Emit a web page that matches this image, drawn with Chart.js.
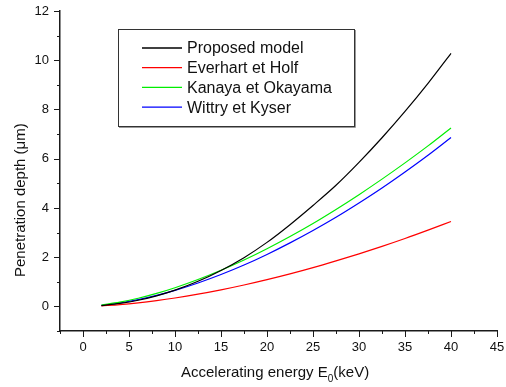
<!DOCTYPE html>
<html>
<head>
<meta charset="utf-8">
<script src="https://cdn.jsdelivr.net/npm/chart.js@4/dist/chart.umd.min.js"></script>
<style>
  html, body { margin: 0; padding: 0; background: #fff; }
  #wrap { width: 506px; height: 387px; }
</style>
</head>
<body>
<div id="wrap"><canvas id="depthChart" width="506" height="387"></canvas></div>
<script>
// --- data ---
const energy = [2, 4, 6, 8, 10, 12.5, 15, 17.5, 20, 22.5, 25, 27.5, 30, 32.5, 35, 37.5, 40];

const proposedModel = [0.03, 0.12, 0.25, 0.43, 0.66, 1.02, 1.46, 1.98, 2.6, 3.32, 4.1, 4.92, 5.85, 6.85, 7.92, 9.06, 10.28];
const everhartHolf  = [0.023, 0.074, 0.145, 0.235, 0.341, 0.495, 0.671, 0.868, 1.085, 1.32, 1.575, 1.85, 2.136, 2.44, 2.76, 3.10, 3.45];
const kanayaOkayama = [0.055, 0.17, 0.329, 0.526, 0.757, 1.09, 1.466, 1.885, 2.345, 2.84, 3.37, 3.94, 4.54, 5.17, 5.83, 6.52, 7.25];
const wittryKyser   = [0.042, 0.137, 0.272, 0.444, 0.65, 0.95, 1.294, 1.68, 2.111, 2.58, 3.083, 3.62, 4.2, 4.81, 5.46, 6.14, 6.86];

const seriesNames  = ["Proposed model", "Everhart et Holf", "Kanaya et Okayama", "Wittry et Kyser"];
const seriesColors = ["#000000", "#ff0000", "#00ee00", "#0000ff"];

const xTitle = "Accelerating energy E";
const yTitle = "Penetration depth (\u03bcm)";

const FONT = "'Liberation Sans', Arial, sans-serif";
const AXIS_COLOR = "#1a1a1a";

function toPoints(ys) {
  return energy.map((x, i) => ({ x: x, y: ys[i] }));
}

// outward tick marks, long on labelled ticks and short on the others
const tickMarks = {
  id: "tickMarks",
  afterDraw(chart) {
    const ctx = chart.ctx;
    const xs = chart.scales.x;
    const ys = chart.scales.y;
    ctx.save();
    ctx.strokeStyle = AXIS_COLOR;
    ctx.lineWidth = 1;
    ctx.beginPath();
    xs.ticks.forEach((t) => {
      const px = Math.round(xs.getPixelForValue(t.value)) + 0.5;
      const len = Math.abs(t.value % 5) < 1e-6 ? 6 : 3;
      ctx.moveTo(px, xs.top);
      ctx.lineTo(px, xs.top + len);
    });
    ys.ticks.forEach((t) => {
      const py = Math.round(ys.getPixelForValue(t.value)) + 0.5;
      const len = Math.abs(t.value % 2) < 1e-6 ? 6 : 3;
      ctx.moveTo(ys.right, py);
      ctx.lineTo(ys.right - len, py);
    });
    ctx.stroke();
    ctx.restore();
  },
};

// axis titles (x title has a subscript 0)
const axisTitles = {
  id: "axisTitles",
  afterDraw(chart) {
    const ctx = chart.ctx;
    ctx.save();
    ctx.fillStyle = "#111";
    ctx.textBaseline = "alphabetic";

    ctx.font = "15px " + FONT;
    let x = 181;
    const base = 377;
    ctx.fillText(xTitle, x, base);
    x += ctx.measureText(xTitle).width;
    ctx.font = "10px " + FONT;
    ctx.fillText("0", x, base + 5);
    x += ctx.measureText("0").width;
    ctx.font = "15px " + FONT;
    ctx.fillText("(keV)", x, base);

    ctx.translate(25, 277);
    ctx.rotate(-Math.PI / 2);
    ctx.textAlign = "left";
    ctx.fillText(yTitle, 0, 0);
    ctx.restore();
  },
};

// boxed legend inside the plot, top left
const boxLegend = {
  id: "boxLegend",
  afterDraw(chart) {
    const ctx = chart.ctx;
    const bx = 118, by = 29, bw = 237, bh = 98;
    ctx.save();
    ctx.fillStyle = "#fff";
    ctx.fillRect(bx, by, bw, bh);
    ctx.strokeStyle = "#333";
    ctx.lineWidth = 1;
    ctx.strokeRect(bx + 0.5, by + 0.5, bw - 1, bh - 1);
    ctx.strokeStyle = "#999";
    ctx.beginPath();
    ctx.moveTo(bx + 1, by + bh + 0.5);
    ctx.lineTo(bx + bw + 0.5, by + bh + 0.5);
    ctx.lineTo(bx + bw + 0.5, by + 1);
    ctx.stroke();

    ctx.font = "16px " + FONT;
    ctx.textBaseline = "middle";
    ctx.lineWidth = 1.3;
    seriesNames.forEach((name, i) => {
      const y = 48 + i * 19.7;
      ctx.strokeStyle = seriesColors[i];
      ctx.beginPath();
      ctx.moveTo(142, y);
      ctx.lineTo(182, y);
      ctx.stroke();
      ctx.fillStyle = "#111";
      ctx.fillText(name, 187, y + 1);
    });
    ctx.restore();
  },
};

function initChart() {
  const canvas = document.getElementById("depthChart");
  if (!canvas) return;
  const ctx = canvas.getContext("2d");

  const seriesData = [proposedModel, everhartHolf, kanayaOkayama, wittryKyser];

  new Chart(ctx, {
    type: "line",
    data: {
      datasets: seriesData.map((ys, i) => ({
        label: seriesNames[i],
        data: toPoints(ys),
        borderColor: seriesColors[i],
        backgroundColor: seriesColors[i],
        borderWidth: 1.2,
        pointRadius: 0,
        cubicInterpolationMode: "monotone",
        fill: false,
      })),
    },
    options: {
      responsive: false,
      animation: false,
      devicePixelRatio: 1,
      layout: { padding: { top: 11, right: 9, left: 0, bottom: 0 } },
      plugins: {
        legend: { display: false },
        tooltip: { enabled: false },
      },
      scales: {
        x: {
          type: "linear",
          min: -2.5,
          max: 45,
          // fixed axis band; drop the label overhang padding chart.js adds
          afterFit: (scale) => {
            scale.height = 56;
            scale.paddingLeft = 0;
            scale.paddingRight = 0;
          },
          grid: { drawOnChartArea: false, drawTicks: false },
          border: { display: true, color: AXIS_COLOR, width: 1.5 },
          ticks: {
            stepSize: 2.5,
            autoSkip: false,
            maxRotation: 0,
            padding: 9,
            color: "#111",
            font: { family: FONT, size: 13 },
            callback: (v) => (Math.abs(v % 5) < 1e-6 ? v : ""),
          },
        },
        y: {
          type: "linear",
          min: -1,
          max: 12,
          afterFit: (scale) => {
            scale.width = 60;
            scale.paddingTop = 0;
            scale.paddingBottom = 0;
          },
          grid: { drawOnChartArea: false, drawTicks: false },
          border: { display: true, color: AXIS_COLOR, width: 1.5 },
          ticks: {
            stepSize: 1,
            autoSkip: false,
            padding: 11,
            color: "#111",
            font: { family: FONT, size: 13 },
            callback: (v) => (Math.abs(v % 2) < 1e-6 ? v : ""),
          },
        },
      },
    },
    plugins: [tickMarks, axisTitles, boxLegend],
  });
}

initChart();
</script>
</body>
</html>
